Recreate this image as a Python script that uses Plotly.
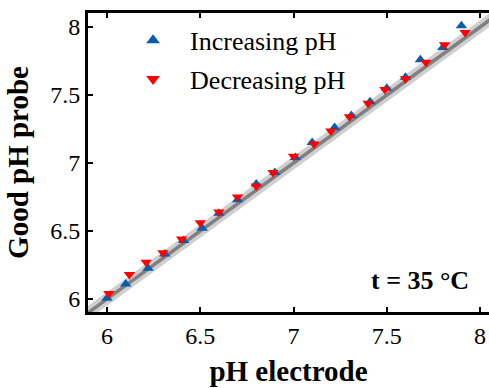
import plotly.graph_objects as go

inc_x = [6.00, 6.10, 6.22, 6.31, 6.41, 6.51, 6.60, 6.70, 6.80, 6.90, 7.01, 7.10, 7.22, 7.31, 7.41, 7.50, 7.60, 7.68, 7.80, 7.90]
inc_y = [6.005, 6.11, 6.225, 6.33, 6.43, 6.52, 6.63, 6.73, 6.845, 6.93, 7.04, 7.15, 7.26, 7.35, 7.45, 7.55, 7.63, 7.76, 7.85, 8.01]
dec_x = [6.01, 6.12, 6.21, 6.30, 6.40, 6.50, 6.60, 6.70, 6.80, 6.89, 7.00, 7.11, 7.20, 7.30, 7.40, 7.49, 7.60, 7.71, 7.81, 7.92]
dec_y = [6.04, 6.18, 6.27, 6.34, 6.44, 6.56, 6.64, 6.75, 6.83, 6.93, 7.05, 7.14, 7.235, 7.34, 7.44, 7.54, 7.62, 7.74, 7.87, 7.96]
ref_x = [5.85, 8.1]
ref_y = [5.85, 8.1]
x_ticks = [6, 6.5, 7, 7.5, 8]
y_ticks = [6, 6.5, 7, 7.5, 8]
tick_text = ["6", "6.5", "7", "7.5", "8"]

serif = "Liberation Serif"

fig = go.Figure()
fig.add_trace(go.Scatter(x=ref_x, y=ref_y, mode="lines", line=dict(color="#cfcfcf", width=11),
                         showlegend=False, hoverinfo="skip"))
fig.add_trace(go.Scatter(x=ref_x, y=ref_y, mode="lines", line=dict(color="#808080", width=3.5),
                         showlegend=False, hoverinfo="skip"))
fig.add_trace(go.Scatter(x=inc_x, y=inc_y, mode="markers", name="Increasing pH", legendgroup="a",
                         marker=dict(symbol="triangle-up", color="#0b5cad", size=10)))
fig.add_trace(go.Scatter(x=dec_x, y=dec_y, mode="markers", name="Decreasing pH", legendgroup="b",
                         marker=dict(symbol="triangle-down", color="#ff0000", size=10)))

fig.add_annotation(x=0.955, y=0.105, xref="paper", yref="paper", xanchor="right", yanchor="middle",
                   text="<b>t = 35 °C</b>", showarrow=False,
                   font=dict(family=serif, size=26, color="black"))

fig.update_layout(
    width=489, height=388,
    margin=dict(l=88, r=0, t=13, b=76),
    plot_bgcolor="white", paper_bgcolor="white",
    font=dict(family=serif, size=24, color="black"),
    showlegend=True,
    legend=dict(x=0.07, y=0.987, xanchor="left", yanchor="top", bgcolor="rgba(0,0,0,0)",
                font=dict(family=serif, size=26, color="black"), itemsizing="constant",
                itemwidth=64, tracegroupgap=2),
    xaxis=dict(range=[5.898, 8.048], tickvals=x_ticks, ticktext=tick_text,
               showline=True, linecolor="black", linewidth=3, mirror="ticks",
               ticks="inside", ticklen=5, tickwidth=2, tickcolor="black",
               showgrid=False, zeroline=False, tickfont=dict(family=serif, size=24, color="black"),
               title=dict(text="<b>pH electrode</b>", font=dict(family=serif, size=29), standoff=13)),
    yaxis=dict(range=[5.904, 8.103], tickvals=y_ticks, ticktext=tick_text,
               showline=True, linecolor="black", linewidth=3, mirror=False,
               ticks="inside", ticklen=5, tickwidth=2, tickcolor="black",
               showgrid=False, zeroline=False, tickfont=dict(family=serif, size=24, color="black"),
               title=dict(text="<b>Good pH probe</b>", font=dict(family=serif, size=29), standoff=14)),
)

fig.write_html("out.html")
